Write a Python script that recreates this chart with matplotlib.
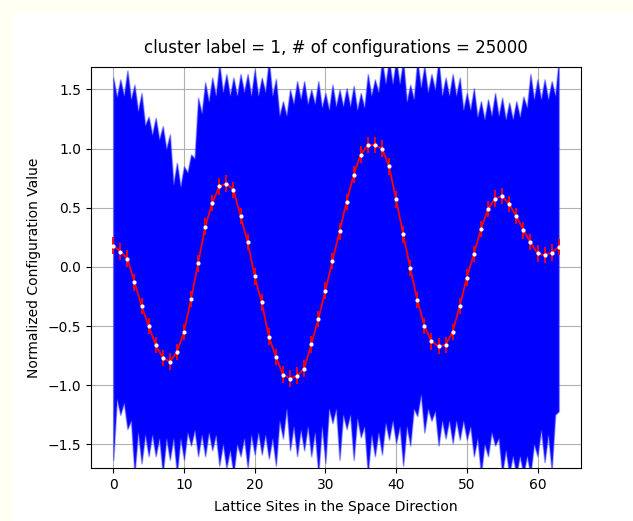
import matplotlib
matplotlib.use("Agg")
import matplotlib.pyplot as plt
import numpy as np
from matplotlib.patches import Rectangle

sites = list(range(64))

mean_vals = [0.18, 0.13, 0.07, -0.13, -0.33, -0.50, -0.66, -0.77, -0.80, -0.72,
             -0.55, -0.27, 0.03, 0.34, 0.54, 0.68, 0.705, 0.65, 0.43, 0.21,
             -0.08, -0.30, -0.59, -0.76, -0.91, -0.945, -0.92, -0.86, -0.655, -0.44,
             -0.20, 0.05, 0.30, 0.55, 0.78, 0.95, 1.03, 1.03, 1.00, 0.85,
             0.57, 0.275, -0.01, -0.28, -0.50, -0.63, -0.67, -0.66, -0.55, -0.33,
             -0.09, 0.11, 0.32, 0.49, 0.576, 0.60, 0.53, 0.43, 0.31, 0.21,
             0.114, 0.10, 0.12, 0.167]

err_vals = [0.07] * 64

# envelope of all configurations: values at sites and between sites
upper_peak = [1.60, 1.585, 1.66, 1.54, 1.47, 1.27, 1.26, 1.19, 1.12, 0.88,
              0.85, 0.95, 1.43, 1.56, 1.60, 1.72, 1.63, 1.60, 1.63, 1.63,
              1.67, 1.60, 1.75, 1.59, 1.40, 1.50, 1.57, 1.57, 1.50, 1.57,
              1.47, 1.54, 1.50, 1.51, 1.53, 1.47, 1.63, 1.585, 1.75, 1.75,
              1.75, 1.75, 1.54, 1.75, 1.70, 1.63, 1.75, 1.60, 1.63, 1.60,
              1.47, 1.51, 1.40, 1.416, 1.47, 1.43, 1.39, 1.40, 1.44, 1.63,
              1.585, 1.585, 1.57, 1.75]
upper_valley = [1.44, 1.45, 1.42, 1.32, 1.20, 1.12, 1.08, 1.00, 0.70, 0.68,
                0.80, 0.92, 1.30, 1.40, 1.45, 1.48, 1.45, 1.45, 1.48, 1.45,
                1.45, 1.48, 1.45, 1.28, 1.28, 1.38, 1.42, 1.38, 1.38, 1.35,
                1.33, 1.36, 1.36, 1.36, 1.33, 1.35, 1.45, 1.48, 1.55, 1.55,
                1.55, 1.40, 1.42, 1.52, 1.48, 1.50, 1.45, 1.45, 1.45, 1.33,
                1.33, 1.27, 1.25, 1.28, 1.28, 1.25, 1.25, 1.27, 1.35, 1.42,
                1.42, 1.42, 1.45]
lower_peak = [-1.63, -1.25, -1.37, -1.75, -1.66, -1.60, -1.60, -1.75, -1.63, -1.75,
              -1.63, -1.51, -1.60, -1.60, -1.55, -1.68, -1.70, -1.75, -1.60, -1.70,
              -1.585, -1.585, -1.62, -1.68, -1.45, -1.55, -1.60, -1.55, -1.60, -1.75,
              -1.655, -1.32, -1.63, -1.37, -1.63, -1.44, -1.75, -1.60, -1.585, -1.46,
              -1.49, -1.68, -1.51, -1.26, -1.40, -1.30, -1.51, -1.45, -1.49, -1.46,
              -1.46, -1.60, -1.75, -1.60, -1.51, -1.75, -1.75, -1.75, -1.75, -1.75,
              -1.60, -1.65, -1.72, -1.22]
lower_valley = [-1.12, -1.15, -1.30, -1.40, -1.42, -1.42, -1.45, -1.45, -1.45, -1.45,
                -1.40, -1.38, -1.42, -1.40, -1.42, -1.50, -1.55, -1.50, -1.45, -1.42,
                -1.40, -1.42, -1.45, -1.30, -1.20, -1.35, -1.38, -1.35, -1.40, -1.35,
                -1.20, -1.20, -1.25, -1.25, -1.28, -1.35, -1.42, -1.40, -1.32, -1.30,
                -1.35, -1.35, -1.20, -1.08, -1.20, -1.22, -1.30, -1.30, -1.30, -1.30,
                -1.35, -1.45, -1.50, -1.40, -1.45, -1.55, -1.60, -1.60, -1.60, -1.50,
                -1.38, -1.42, -1.25]

title_text = "cluster label = 1, # of configurations = 25000"
xlabel_text = "Lattice Sites in the Space Direction"
ylabel_text = "Normalized Configuration Value"

W, H = 633, 521
fig = plt.figure(figsize=(W / 100, H / 100), dpi=100, facecolor="white")
# cream frame of the screenshot (top and left)
fig.patches.append(Rectangle((0, 1 - 12 / H), 1, 12 / H, transform=fig.transFigure,
                             facecolor="#fffff2", edgecolor="none", zorder=-10))
fig.patches.append(Rectangle((0, 0), 12 / W, 1, transform=fig.transFigure,
                             facecolor="#fffff2", edgecolor="none", zorder=-10))

ax = fig.add_axes([91 / W, 53 / H, 490 / W, 401 / H])

# interleave site and midpoint envelope values
env_x, env_up, env_lo = [], [], []
for i in range(len(sites)):
    env_x.append(sites[i]); env_up.append(upper_peak[i]); env_lo.append(lower_peak[i])
    if i < len(sites) - 1:
        env_x.append((sites[i] + sites[i + 1]) / 2)
        env_up.append(upper_valley[i]); env_lo.append(lower_valley[i])

ax.fill_between(env_x, env_lo, env_up, color="blue", linewidth=1.2,
                edgecolor=(0.25, 0.25, 1, 0.45), zorder=2)

ax.errorbar(sites, mean_vals, yerr=err_vals, color="red", ecolor="red",
            linewidth=1.3, elinewidth=1.3, marker=".", markersize=4,
            markerfacecolor="white", markeredgecolor="white", zorder=3)

ax.set_xlim(-3.15, 66.15)
ax.set_ylim(-1.7, 1.69)
ax.set_yticks([-1.5, -1.0, -0.5, 0.0, 0.5, 1.0, 1.5])
ax.set_xticks([0, 10, 20, 30, 40, 50, 60])
ax.grid(True, color="#b0b0b0", linewidth=0.8)
ax.set_title(title_text, fontsize=12, pad=10)
ax.set_xlabel(xlabel_text, fontsize=10, labelpad=6)
ax.set_ylabel(ylabel_text, fontsize=10, labelpad=5)

fig.savefig("out.png", dpi=100, facecolor=fig.get_facecolor())
